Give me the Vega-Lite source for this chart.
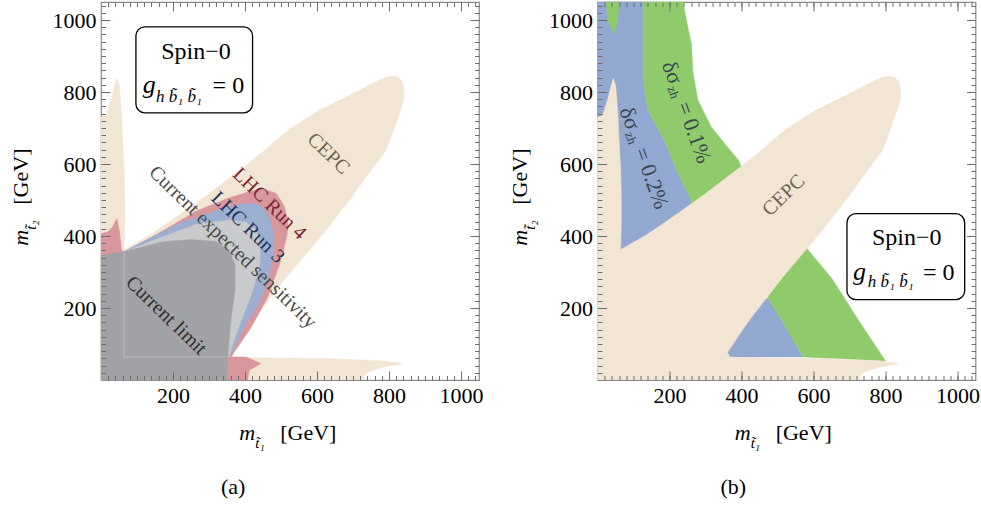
{
"$schema": "https://vega.github.io/schema/vega-lite/v6.json",
"padding": {"left": 8, "top": 0, "right": 0, "bottom": 0},
"background": "white",
"spacing": 118.5,
"bounds": "flush",
"config": {"view": {"stroke": "#8a8a8a", "strokeWidth": 1.2}, "text": {"font": "Liberation Serif"}, "axis": {"zindex": 1}},
"datasets": {
"cepc": [{"i":0,"x":0,"y":0},{"i":1,"x":0,"y":730},{"i":2,"x":14,"y":735},{"i":3,"x":28,"y":777},{"i":4,"x":37,"y":815},{"i":5,"x":44,"y":838},{"i":6,"x":51,"y":815},{"i":7,"x":56,"y":750},{"i":8,"x":60,"y":666},{"i":9,"x":64,"y":592},{"i":10,"x":66,"y":511},{"i":11,"x":66,"y":430},{"i":12,"x":64,"y":362},{"i":13,"x":139,"y":405},{"i":14,"x":222,"y":462},{"i":15,"x":292,"y":512},{"i":16,"x":417,"y":607},{"i":17,"x":528,"y":700},{"i":18,"x":606,"y":749},{"i":19,"x":700,"y":796},{"i":20,"x":770,"y":832},{"i":21,"x":792,"y":841},{"i":22,"x":810,"y":844},{"i":23,"x":825,"y":841},{"i":24,"x":836,"y":830},{"i":25,"x":840,"y":816},{"i":26,"x":842,"y":799},{"i":27,"x":841,"y":777},{"i":28,"x":836,"y":760},{"i":29,"x":815,"y":700},{"i":30,"x":792,"y":638},{"i":31,"x":744,"y":574},{"i":32,"x":700,"y":513},{"i":33,"x":625,"y":416},{"i":34,"x":514,"y":285},{"i":35,"x":417,"y":160},{"i":36,"x":361,"y":77},{"i":37,"x":367,"y":64},{"i":38,"x":403,"y":62},{"i":39,"x":648,"y":59},{"i":40,"x":787,"y":53},{"i":41,"x":838,"y":46},{"i":42,"x":786,"y":36},{"i":43,"x":741,"y":22},{"i":44,"x":732,"y":13},{"i":45,"x":727,"y":0}],
"a_red": [{"i":0,"x":0,"y":407},{"i":1,"x":19,"y":411},{"i":2,"x":32,"y":425},{"i":3,"x":44,"y":448},{"i":4,"x":51,"y":416},{"i":5,"x":57,"y":362},{"i":6,"x":64,"y":355},{"i":7,"x":171,"y":414},{"i":8,"x":264,"y":469},{"i":9,"x":356,"y":506},{"i":10,"x":421,"y":526},{"i":11,"x":450,"y":531},{"i":12,"x":486,"y":519},{"i":13,"x":508,"y":485},{"i":14,"x":519,"y":444},{"i":15,"x":517,"y":402},{"i":16,"x":497,"y":324},{"i":17,"x":463,"y":230},{"i":18,"x":417,"y":146},{"i":19,"x":361,"y":64},{"i":20,"x":403,"y":64},{"i":21,"x":444,"y":46},{"i":22,"x":412,"y":27},{"i":23,"x":407,"y":0},{"i":24,"x":0,"y":0}],
"a_blue": [{"i":0,"x":64,"y":357},{"i":1,"x":217,"y":435},{"i":2,"x":338,"y":477},{"i":3,"x":389,"y":488},{"i":4,"x":421,"y":491},{"i":5,"x":450,"y":480},{"i":6,"x":467,"y":453},{"i":7,"x":481,"y":402},{"i":8,"x":478,"y":344},{"i":9,"x":461,"y":269},{"i":10,"x":436,"y":208},{"i":11,"x":400,"y":152},{"i":12,"x":367,"y":83},{"i":13,"x":356,"y":64},{"i":14,"x":200,"y":64},{"i":15,"x":64,"y":300}],
"a_lgray": [{"i":0,"x":64,"y":356},{"i":1,"x":167,"y":396},{"i":2,"x":264,"y":432},{"i":3,"x":356,"y":444},{"i":4,"x":403,"y":438},{"i":5,"x":431,"y":416},{"i":6,"x":442,"y":374},{"i":7,"x":442,"y":327},{"i":8,"x":422,"y":249},{"i":9,"x":392,"y":171},{"i":10,"x":367,"y":104},{"i":11,"x":356,"y":64},{"i":12,"x":200,"y":64},{"i":13,"x":64,"y":300}],
"a_dgray": [{"i":0,"x":0,"y":0},{"i":1,"x":0,"y":346},{"i":2,"x":65,"y":357},{"i":3,"x":171,"y":384},{"i":4,"x":250,"y":390},{"i":5,"x":319,"y":385},{"i":6,"x":356,"y":360},{"i":7,"x":372,"y":319},{"i":8,"x":372,"y":249},{"i":9,"x":360,"y":158},{"i":10,"x":352,"y":64},{"i":11,"x":350,"y":0}],
"a_frame": [{"i":0,"x":64,"y":357},{"i":1,"x":64,"y":64},{"i":2,"x":352,"y":64}],
"a_labels": [{"label":"CEPC","x":632,"y":629},{"label":"LHC Run 4","x":468,"y":490},{"label":"LHC Run 3","x":408,"y":424},{"label":"Current expected sensitivity","x":366,"y":369},{"label":"Current limit","x":181,"y":179}],
"b_blue1": [{"i":0,"x":0,"y":1050},{"i":1,"x":126,"y":1050},{"i":2,"x":126,"y":842},{"i":3,"x":140,"y":749},{"i":4,"x":186,"y":666},{"i":5,"x":224,"y":573},{"i":6,"x":261,"y":499},{"i":7,"x":250,"y":300},{"i":8,"x":0,"y":300}],
"b_green1": [{"i":0,"x":126,"y":1050},{"i":1,"x":237,"y":1050},{"i":2,"x":251,"y":980},{"i":3,"x":261,"y":934},{"i":4,"x":265,"y":855},{"i":5,"x":279,"y":777},{"i":6,"x":316,"y":703},{"i":7,"x":353,"y":657},{"i":8,"x":391,"y":611},{"i":9,"x":400,"y":590},{"i":10,"x":300,"y":450},{"i":11,"x":250,"y":450},{"i":12,"x":261,"y":499},{"i":13,"x":224,"y":573},{"i":14,"x":186,"y":666},{"i":15,"x":140,"y":749},{"i":16,"x":126,"y":842}],
"b_notch": [{"i":0,"x":24,"y":1050},{"i":1,"x":61,"y":1050},{"i":2,"x":56,"y":999},{"i":3,"x":47,"y":962},{"i":4,"x":28,"y":999}],
"b_blue2": [{"i":0,"x":350,"y":64},{"i":1,"x":572,"y":64},{"i":2,"x":549,"y":101},{"i":3,"x":512,"y":166},{"i":4,"x":474,"y":227},{"i":5,"x":350,"y":227}],
"b_green2": [{"i":0,"x":572,"y":64},{"i":1,"x":800,"y":53},{"i":2,"x":725,"y":166},{"i":3,"x":651,"y":282},{"i":4,"x":581,"y":366},{"i":5,"x":500,"y":366},{"i":6,"x":474,"y":227},{"i":7,"x":512,"y":166},{"i":8,"x":549,"y":101}],
"b_dsig": [{"x":79,"y":756,"val":"= 0.2%"},{"x":197,"y":883,"val":"= 0.1%"}]
},
"hconcat": [
{
"width": 378, "height": 378,
"resolve": {"axis": {"x": "independent", "y": "independent"}},
"layer": [
{"data": {"name": "cepc"}, "mark": {"type": "line", "fill": "#F2E5D3", "stroke": "#F2E5D3", "strokeWidth": 0.5},
 "encoding": {"order": {"field": "i", "type": "quantitative"},
  "x": {"field": "x", "type": "quantitative", "scale": {"domain": [0,1050], "nice": false, "zero": false}, "axis": {"orient": "bottom", "zindex": 1, "offset": -9, "values": [200,400,600,800,1000], "format": "d", "tickSize": 9, "tickWidth": 1, "labelPadding": 5, "title": null, "domain": false, "grid": false, "tickColor": "#6e6e6e", "labelFont": "Liberation Serif", "labelFontSize": 22, "labelColor": "#000", "labelFlush": false, "labelOverlap": false}},
  "y": {"field": "y", "type": "quantitative", "scale": {"domain": [0,1050], "nice": false, "zero": false}, "axis": {"orient": "left", "zindex": 1, "offset": -9, "values": [200,400,600,800,1000], "format": "d", "tickSize": 9, "tickWidth": 1, "labelPadding": 5, "title": null, "domain": false, "grid": false, "tickColor": "#6e6e6e", "labelFont": "Liberation Serif", "labelFontSize": 22, "labelColor": "#000", "labelFlush": false, "labelOverlap": false}}}},
{"data": {"name": "a_red"}, "mark": {"type": "line", "fill": "#D8979C", "stroke": "#D8979C", "strokeWidth": 0.5},
 "encoding": {"order": {"field": "i", "type": "quantitative"},
  "x": {"field": "x", "type": "quantitative", "scale": {"domain": [0,1050], "nice": false, "zero": false}, "axis": {"orient": "bottom", "zindex": 1, "offset": -4.5, "values": [20,40,60,80,100,120,140,160,180,200,220,240,260,280,300,320,340,360,380,400,420,440,460,480,500,520,540,560,580,600,620,640,660,680,700,720,740,760,780,800,820,840,860,880,900,920,940,960,980,1000,1020,1040], "tickSize": 4.5, "tickWidth": 1, "labels": false, "title": null, "domain": false, "grid": false, "tickColor": "#6e6e6e"}},
  "y": {"field": "y", "type": "quantitative", "scale": {"domain": [0,1050], "nice": false, "zero": false}, "axis": {"orient": "left", "zindex": 1, "offset": -4.5, "values": [20,40,60,80,100,120,140,160,180,200,220,240,260,280,300,320,340,360,380,400,420,440,460,480,500,520,540,560,580,600,620,640,660,680,700,720,740,760,780,800,820,840,860,880,900,920,940,960,980,1000,1020,1040], "tickSize": 4.5, "tickWidth": 1, "labels": false, "title": null, "domain": false, "grid": false, "tickColor": "#6e6e6e"}}}},
{"data": {"name": "a_blue"}, "mark": {"type": "line", "fill": "#9CAFD1", "stroke": "#9CAFD1", "strokeWidth": 0.5},
 "encoding": {"order": {"field": "i", "type": "quantitative"},
  "x": {"field": "x", "type": "quantitative", "scale": {"domain": [0,1050], "nice": false, "zero": false}, "axis": {"orient": "top", "zindex": 1, "offset": -9, "values": [200,400,600,800,1000], "tickSize": 9, "tickWidth": 1, "labels": false, "title": null, "domain": false, "grid": false, "tickColor": "#6e6e6e"}},
  "y": {"field": "y", "type": "quantitative", "scale": {"domain": [0,1050], "nice": false, "zero": false}, "axis": {"orient": "right", "zindex": 1, "offset": -9, "values": [200,400,600,800,1000], "tickSize": 9, "tickWidth": 1, "labels": false, "title": null, "domain": false, "grid": false, "tickColor": "#6e6e6e"}}}},
{"data": {"name": "a_lgray"}, "mark": {"type": "line", "fill": "#C9CACC", "stroke": "#C9CACC", "strokeWidth": 0.5},
 "encoding": {"order": {"field": "i", "type": "quantitative"},
  "x": {"field": "x", "type": "quantitative", "scale": {"domain": [0,1050], "nice": false, "zero": false}, "axis": {"orient": "top", "zindex": 1, "offset": -4.5, "values": [20,40,60,80,100,120,140,160,180,200,220,240,260,280,300,320,340,360,380,400,420,440,460,480,500,520,540,560,580,600,620,640,660,680,700,720,740,760,780,800,820,840,860,880,900,920,940,960,980,1000,1020,1040], "tickSize": 4.5, "tickWidth": 1, "labels": false, "title": null, "domain": false, "grid": false, "tickColor": "#6e6e6e"}},
  "y": {"field": "y", "type": "quantitative", "scale": {"domain": [0,1050], "nice": false, "zero": false}, "axis": {"orient": "right", "zindex": 1, "offset": -4.5, "values": [20,40,60,80,100,120,140,160,180,200,220,240,260,280,300,320,340,360,380,400,420,440,460,480,500,520,540,560,580,600,620,640,660,680,700,720,740,760,780,800,820,840,860,880,900,920,940,960,980,1000,1020,1040], "tickSize": 4.5, "tickWidth": 1, "labels": false, "title": null, "domain": false, "grid": false, "tickColor": "#6e6e6e"}}}},
{"data": {"name": "a_dgray"}, "mark": {"type": "line", "fill": "#A1A2A5", "stroke": "#A1A2A5", "strokeWidth": 0.5},
 "encoding": {"order": {"field": "i", "type": "quantitative"},
  "x": {"field": "x", "type": "quantitative", "scale": {"domain": [0,1050], "nice": false, "zero": false}, "axis": null},
  "y": {"field": "y", "type": "quantitative", "scale": {"domain": [0,1050], "nice": false, "zero": false}, "axis": null}}},
{"data": {"name": "a_frame"}, "mark": {"type": "line", "stroke": "#B9B9BC", "strokeWidth": 1},
 "encoding": {"order": {"field": "i", "type": "quantitative"},
  "x": {"field": "x", "type": "quantitative", "scale": {"domain": [0,1050], "nice": false, "zero": false}, "axis": null},
  "y": {"field": "y", "type": "quantitative", "scale": {"domain": [0,1050], "nice": false, "zero": false}, "axis": null}}},
{"data": {"name": "a_labels"}, "mark": {"type": "text", "font": "Liberation Serif", "fontSize": 20, "angle": 44, "align": "center", "baseline": "middle"},
 "encoding": {
  "x": {"field": "x", "type": "quantitative", "scale": {"domain": [0,1050], "nice": false, "zero": false}, "axis": null},
  "y": {"field": "y", "type": "quantitative", "scale": {"domain": [0,1050], "nice": false, "zero": false}, "axis": null},
  "text": {"field": "label"},
  "color": {"field": "label", "type": "nominal", "legend": null, "scale": {"domain": ["CEPC","LHC Run 4","LHC Run 3","Current expected sensitivity","Current limit"], "range": ["#6f6554","#7a2431","#23335a","#4a4a4a","#2f2f2f"]}}}},
{"data": {"values": [{}]}, "mark": {"type": "rect", "fill": "white", "stroke": "black", "strokeWidth": 1.3, "cornerRadius": 9},
 "encoding": {
  "x": {"datum": 97, "type": "quantitative", "scale": {"domain": [0,1050], "nice": false, "zero": false}, "axis": null},
  "x2": {"datum": 421},
  "y": {"datum": 981, "type": "quantitative", "scale": {"domain": [0,1050], "nice": false, "zero": false}, "axis": null},
  "y2": {"datum": 742}}},
{"data": {"values": [{}]}, "mark": {"type": "text", "font": "Liberation Serif", "fontSize": 24, "align": "center", "baseline": "alphabetic", "color": "black"},
 "encoding": {
  "x": {"datum": 264, "type": "quantitative", "scale": {"domain": [0,1050], "nice": false, "zero": false}, "axis": null},
  "y": {"datum": 893, "type": "quantitative", "scale": {"domain": [0,1050], "nice": false, "zero": false}, "axis": null},
  "text": {"value": "Spin\u22120"}}},
{"data": {"values": [{}]}, "mark": {"type": "text", "font": "Liberation Serif", "fontSize": 26, "fontStyle": "italic", "align": "left", "baseline": "alphabetic", "color": "black"},
 "encoding": {
  "x": {"datum": 116, "type": "quantitative", "scale": {"domain": [0,1050], "nice": false, "zero": false}, "axis": null},
  "y": {"datum": 796, "type": "quantitative", "scale": {"domain": [0,1050], "nice": false, "zero": false}, "axis": null},
  "text": {"value": "g"}}},
{"data": {"values": [{}]}, "mark": {"type": "text", "font": "Liberation Serif", "fontSize": 17, "fontStyle": "italic", "align": "left", "baseline": "alphabetic", "color": "black"},
 "encoding": {
  "x": {"datum": 153, "type": "quantitative", "scale": {"domain": [0,1050], "nice": false, "zero": false}, "axis": null},
  "y": {"datum": 772, "type": "quantitative", "scale": {"domain": [0,1050], "nice": false, "zero": false}, "axis": null},
  "text": {"value": "h b\u0303\u2081 b\u0303\u2081"}}},
{"data": {"values": [{}]}, "mark": {"type": "text", "font": "Liberation Serif", "fontSize": 24, "align": "left", "baseline": "alphabetic", "color": "black"},
 "encoding": {
  "x": {"datum": 310, "type": "quantitative", "scale": {"domain": [0,1050], "nice": false, "zero": false}, "axis": null},
  "y": {"datum": 796, "type": "quantitative", "scale": {"domain": [0,1050], "nice": false, "zero": false}, "axis": null},
  "text": {"value": "= 0"}}},
{"data": {"values": [{}]}, "mark": {"type": "text", "font": "Liberation Serif", "fontSize": 22, "fontStyle": "italic", "angle": 270, "align": "left", "baseline": "alphabetic", "color": "black"},
 "encoding": {
  "x": {"datum": -204, "type": "quantitative", "scale": {"domain": [0,1050], "nice": false, "zero": false}, "axis": null},
  "y": {"datum": 373, "type": "quantitative", "scale": {"domain": [0,1050], "nice": false, "zero": false}, "axis": null},
  "text": {"value": "m"}}},
{"data": {"values": [{}]}, "mark": {"type": "text", "font": "Liberation Serif", "fontSize": 15, "fontStyle": "italic", "angle": 270, "align": "left", "baseline": "alphabetic", "dx": 16, "dy": 8, "color": "black"},
 "encoding": {
  "x": {"datum": -204, "type": "quantitative", "scale": {"domain": [0,1050], "nice": false, "zero": false}, "axis": null},
  "y": {"datum": 373, "type": "quantitative", "scale": {"domain": [0,1050], "nice": false, "zero": false}, "axis": null},
  "text": {"value": "t\u0303\u2082"}}},
{"data": {"values": [{}]}, "mark": {"type": "text", "font": "Liberation Serif", "fontSize": 22, "angle": 270, "align": "left", "baseline": "alphabetic", "dx": 41, "color": "black"},
 "encoding": {
  "x": {"datum": -204, "type": "quantitative", "scale": {"domain": [0,1050], "nice": false, "zero": false}, "axis": null},
  "y": {"datum": 373, "type": "quantitative", "scale": {"domain": [0,1050], "nice": false, "zero": false}, "axis": null},
  "text": {"value": "[GeV]"}}},
{"data": {"values": [{}]}, "mark": {"type": "text", "font": "Liberation Serif", "fontSize": 22, "fontStyle": "italic", "align": "left", "baseline": "alphabetic", "color": "black"},
 "encoding": {
  "x": {"datum": 384, "type": "quantitative", "scale": {"domain": [0,1050], "nice": false, "zero": false}, "axis": null},
  "y": {"datum": -167, "type": "quantitative", "scale": {"domain": [0,1050], "nice": false, "zero": false}, "axis": null},
  "text": {"value": "m"}}},
{"data": {"values": [{}]}, "mark": {"type": "text", "font": "Liberation Serif", "fontSize": 15, "fontStyle": "italic", "align": "left", "baseline": "alphabetic", "dx": 16, "dy": 8, "color": "black"},
 "encoding": {
  "x": {"datum": 384, "type": "quantitative", "scale": {"domain": [0,1050], "nice": false, "zero": false}, "axis": null},
  "y": {"datum": -167, "type": "quantitative", "scale": {"domain": [0,1050], "nice": false, "zero": false}, "axis": null},
  "text": {"value": "t\u0303\u2081"}}},
{"data": {"values": [{}]}, "mark": {"type": "text", "font": "Liberation Serif", "fontSize": 22, "align": "left", "baseline": "alphabetic", "dx": 41, "color": "black"},
 "encoding": {
  "x": {"datum": 384, "type": "quantitative", "scale": {"domain": [0,1050], "nice": false, "zero": false}, "axis": null},
  "y": {"datum": -167, "type": "quantitative", "scale": {"domain": [0,1050], "nice": false, "zero": false}, "axis": null},
  "text": {"value": "[GeV]"}}},
{"data": {"values": [{}]}, "mark": {"type": "text", "font": "Liberation Serif", "fontSize": 22, "align": "center", "baseline": "middle", "color": "black"},
 "encoding": {
  "x": {"datum": 367, "type": "quantitative", "scale": {"domain": [0,1050], "nice": false, "zero": false}, "axis": null},
  "y": {"datum": -297, "type": "quantitative", "scale": {"domain": [0,1050], "nice": false, "zero": false}, "axis": null},
  "text": {"value": "(a)"}}}
]
},
{
"width": 378, "height": 378,
"resolve": {"axis": {"x": "independent", "y": "independent"}},
"layer": [
{"data": {"name": "b_blue1"}, "mark": {"type": "line", "fill": "#93A8D0", "stroke": "#93A8D0", "strokeWidth": 0.5},
 "encoding": {"order": {"field": "i", "type": "quantitative"},
  "x": {"field": "x", "type": "quantitative", "scale": {"domain": [0,1050], "nice": false, "zero": false}, "axis": {"orient": "bottom", "zindex": 1, "offset": -9, "values": [200,400,600,800,1000], "format": "d", "tickSize": 9, "tickWidth": 1, "labelPadding": 5, "title": null, "domain": false, "grid": false, "tickColor": "#6e6e6e", "labelFont": "Liberation Serif", "labelFontSize": 22, "labelColor": "#000", "labelFlush": false, "labelOverlap": false}},
  "y": {"field": "y", "type": "quantitative", "scale": {"domain": [0,1050], "nice": false, "zero": false}, "axis": {"orient": "left", "zindex": 1, "offset": -9, "values": [200,400,600,800,1000], "format": "d", "tickSize": 9, "tickWidth": 1, "labelPadding": 5, "title": null, "domain": false, "grid": false, "tickColor": "#6e6e6e", "labelFont": "Liberation Serif", "labelFontSize": 22, "labelColor": "#000", "labelFlush": false, "labelOverlap": false}}}},
{"data": {"name": "b_green1"}, "mark": {"type": "line", "fill": "#8FCB6B", "stroke": "#8FCB6B", "strokeWidth": 0.5},
 "encoding": {"order": {"field": "i", "type": "quantitative"},
  "x": {"field": "x", "type": "quantitative", "scale": {"domain": [0,1050], "nice": false, "zero": false}, "axis": {"orient": "bottom", "zindex": 1, "offset": -4.5, "values": [20,40,60,80,100,120,140,160,180,200,220,240,260,280,300,320,340,360,380,400,420,440,460,480,500,520,540,560,580,600,620,640,660,680,700,720,740,760,780,800,820,840,860,880,900,920,940,960,980,1000,1020,1040], "tickSize": 4.5, "tickWidth": 1, "labels": false, "title": null, "domain": false, "grid": false, "tickColor": "#6e6e6e"}},
  "y": {"field": "y", "type": "quantitative", "scale": {"domain": [0,1050], "nice": false, "zero": false}, "axis": {"orient": "left", "zindex": 1, "offset": -4.5, "values": [20,40,60,80,100,120,140,160,180,200,220,240,260,280,300,320,340,360,380,400,420,440,460,480,500,520,540,560,580,600,620,640,660,680,700,720,740,760,780,800,820,840,860,880,900,920,940,960,980,1000,1020,1040], "tickSize": 4.5, "tickWidth": 1, "labels": false, "title": null, "domain": false, "grid": false, "tickColor": "#6e6e6e"}}}},
{"data": {"name": "b_notch"}, "mark": {"type": "line", "fill": "#8FCB6B", "stroke": "#8FCB6B", "strokeWidth": 0.5},
 "encoding": {"order": {"field": "i", "type": "quantitative"},
  "x": {"field": "x", "type": "quantitative", "scale": {"domain": [0,1050], "nice": false, "zero": false}, "axis": {"orient": "top", "zindex": 1, "offset": -9, "values": [200,400,600,800,1000], "tickSize": 9, "tickWidth": 1, "labels": false, "title": null, "domain": false, "grid": false, "tickColor": "#6e6e6e"}},
  "y": {"field": "y", "type": "quantitative", "scale": {"domain": [0,1050], "nice": false, "zero": false}, "axis": {"orient": "right", "zindex": 1, "offset": -9, "values": [200,400,600,800,1000], "tickSize": 9, "tickWidth": 1, "labels": false, "title": null, "domain": false, "grid": false, "tickColor": "#6e6e6e"}}}},
{"data": {"name": "b_blue2"}, "mark": {"type": "line", "fill": "#93A8D0", "stroke": "#93A8D0", "strokeWidth": 0.5},
 "encoding": {"order": {"field": "i", "type": "quantitative"},
  "x": {"field": "x", "type": "quantitative", "scale": {"domain": [0,1050], "nice": false, "zero": false}, "axis": {"orient": "top", "zindex": 1, "offset": -4.5, "values": [20,40,60,80,100,120,140,160,180,200,220,240,260,280,300,320,340,360,380,400,420,440,460,480,500,520,540,560,580,600,620,640,660,680,700,720,740,760,780,800,820,840,860,880,900,920,940,960,980,1000,1020,1040], "tickSize": 4.5, "tickWidth": 1, "labels": false, "title": null, "domain": false, "grid": false, "tickColor": "#6e6e6e"}},
  "y": {"field": "y", "type": "quantitative", "scale": {"domain": [0,1050], "nice": false, "zero": false}, "axis": {"orient": "right", "zindex": 1, "offset": -4.5, "values": [20,40,60,80,100,120,140,160,180,200,220,240,260,280,300,320,340,360,380,400,420,440,460,480,500,520,540,560,580,600,620,640,660,680,700,720,740,760,780,800,820,840,860,880,900,920,940,960,980,1000,1020,1040], "tickSize": 4.5, "tickWidth": 1, "labels": false, "title": null, "domain": false, "grid": false, "tickColor": "#6e6e6e"}}}},
{"data": {"name": "b_green2"}, "mark": {"type": "line", "fill": "#8FCB6B", "stroke": "#8FCB6B", "strokeWidth": 0.5},
 "encoding": {"order": {"field": "i", "type": "quantitative"},
  "x": {"field": "x", "type": "quantitative", "scale": {"domain": [0,1050], "nice": false, "zero": false}, "axis": null},
  "y": {"field": "y", "type": "quantitative", "scale": {"domain": [0,1050], "nice": false, "zero": false}, "axis": null}}},
{"data": {"name": "cepc"}, "mark": {"type": "line", "fill": "#F2E5D3", "stroke": "#F2E5D3", "strokeWidth": 0.5},
 "encoding": {"order": {"field": "i", "type": "quantitative"},
  "x": {"field": "x", "type": "quantitative", "scale": {"domain": [0,1050], "nice": false, "zero": false}, "axis": null},
  "y": {"field": "y", "type": "quantitative", "scale": {"domain": [0,1050], "nice": false, "zero": false}, "axis": null}}},
{"data": {"values": [{}]}, "mark": {"type": "text", "font": "Liberation Serif", "fontSize": 20, "angle": 316, "align": "center", "baseline": "middle", "color": "#6f6554"},
 "encoding": {
  "x": {"datum": 517, "type": "quantitative", "scale": {"domain": [0,1050], "nice": false, "zero": false}, "axis": null},
  "y": {"datum": 513, "type": "quantitative", "scale": {"domain": [0,1050], "nice": false, "zero": false}, "axis": null},
  "text": {"value": "CEPC"}}},
{"data": {"name": "b_dsig"}, "mark": {"type": "text", "font": "Liberation Serif", "fontSize": 22, "angle": 70, "align": "left", "baseline": "middle", "color": "#3a4550"},
 "encoding": {
  "x": {"field": "x", "type": "quantitative", "scale": {"domain": [0,1050], "nice": false, "zero": false}, "axis": null},
  "y": {"field": "y", "type": "quantitative", "scale": {"domain": [0,1050], "nice": false, "zero": false}, "axis": null},
  "text": {"value": "\u03b4\u03c3"}}},
{"data": {"name": "b_dsig"}, "mark": {"type": "text", "font": "Liberation Serif", "fontSize": 13, "angle": 70, "align": "left", "baseline": "middle", "dx": 24, "dy": 6, "color": "#3a4550"},
 "encoding": {
  "x": {"field": "x", "type": "quantitative", "scale": {"domain": [0,1050], "nice": false, "zero": false}, "axis": null},
  "y": {"field": "y", "type": "quantitative", "scale": {"domain": [0,1050], "nice": false, "zero": false}, "axis": null},
  "text": {"value": "zh"}}},
{"data": {"name": "b_dsig"}, "mark": {"type": "text", "font": "Liberation Serif", "fontSize": 22, "angle": 70, "align": "left", "baseline": "middle", "dx": 43, "color": "#3a4550"},
 "encoding": {
  "x": {"field": "x", "type": "quantitative", "scale": {"domain": [0,1050], "nice": false, "zero": false}, "axis": null},
  "y": {"field": "y", "type": "quantitative", "scale": {"domain": [0,1050], "nice": false, "zero": false}, "axis": null},
  "text": {"field": "val"}}},
{"data": {"values": [{}]}, "mark": {"type": "rect", "fill": "white", "stroke": "black", "strokeWidth": 1.3, "cornerRadius": 9},
 "encoding": {
  "x": {"datum": 693, "type": "quantitative", "scale": {"domain": [0,1050], "nice": false, "zero": false}, "axis": null},
  "x2": {"datum": 1020},
  "y": {"datum": 462, "type": "quantitative", "scale": {"domain": [0,1050], "nice": false, "zero": false}, "axis": null},
  "y2": {"datum": 223}}},
{"data": {"values": [{}]}, "mark": {"type": "text", "font": "Liberation Serif", "fontSize": 24, "align": "center", "baseline": "alphabetic", "color": "black"},
 "encoding": {
  "x": {"datum": 859, "type": "quantitative", "scale": {"domain": [0,1050], "nice": false, "zero": false}, "axis": null},
  "y": {"datum": 376, "type": "quantitative", "scale": {"domain": [0,1050], "nice": false, "zero": false}, "axis": null},
  "text": {"value": "Spin\u22120"}}},
{"data": {"values": [{}]}, "mark": {"type": "text", "font": "Liberation Serif", "fontSize": 26, "fontStyle": "italic", "align": "left", "baseline": "alphabetic", "color": "black"},
 "encoding": {
  "x": {"datum": 710, "type": "quantitative", "scale": {"domain": [0,1050], "nice": false, "zero": false}, "axis": null},
  "y": {"datum": 279, "type": "quantitative", "scale": {"domain": [0,1050], "nice": false, "zero": false}, "axis": null},
  "text": {"value": "g"}}},
{"data": {"values": [{}]}, "mark": {"type": "text", "font": "Liberation Serif", "fontSize": 17, "fontStyle": "italic", "align": "left", "baseline": "alphabetic", "color": "black"},
 "encoding": {
  "x": {"datum": 751, "type": "quantitative", "scale": {"domain": [0,1050], "nice": false, "zero": false}, "axis": null},
  "y": {"datum": 257, "type": "quantitative", "scale": {"domain": [0,1050], "nice": false, "zero": false}, "axis": null},
  "text": {"value": "h b\u0303\u2081 b\u0303\u2081"}}},
{"data": {"values": [{}]}, "mark": {"type": "text", "font": "Liberation Serif", "fontSize": 24, "align": "left", "baseline": "alphabetic", "color": "black"},
 "encoding": {
  "x": {"datum": 904, "type": "quantitative", "scale": {"domain": [0,1050], "nice": false, "zero": false}, "axis": null},
  "y": {"datum": 279, "type": "quantitative", "scale": {"domain": [0,1050], "nice": false, "zero": false}, "axis": null},
  "text": {"value": "= 0"}}},
{"data": {"values": [{}]}, "mark": {"type": "text", "font": "Liberation Serif", "fontSize": 22, "fontStyle": "italic", "angle": 270, "align": "left", "baseline": "alphabetic", "color": "black"},
 "encoding": {
  "x": {"datum": -196, "type": "quantitative", "scale": {"domain": [0,1050], "nice": false, "zero": false}, "axis": null},
  "y": {"datum": 373, "type": "quantitative", "scale": {"domain": [0,1050], "nice": false, "zero": false}, "axis": null},
  "text": {"value": "m"}}},
{"data": {"values": [{}]}, "mark": {"type": "text", "font": "Liberation Serif", "fontSize": 15, "fontStyle": "italic", "angle": 270, "align": "left", "baseline": "alphabetic", "dx": 16, "dy": 8, "color": "black"},
 "encoding": {
  "x": {"datum": -196, "type": "quantitative", "scale": {"domain": [0,1050], "nice": false, "zero": false}, "axis": null},
  "y": {"datum": 373, "type": "quantitative", "scale": {"domain": [0,1050], "nice": false, "zero": false}, "axis": null},
  "text": {"value": "t\u0303\u2082"}}},
{"data": {"values": [{}]}, "mark": {"type": "text", "font": "Liberation Serif", "fontSize": 22, "angle": 270, "align": "left", "baseline": "alphabetic", "dx": 41, "color": "black"},
 "encoding": {
  "x": {"datum": -196, "type": "quantitative", "scale": {"domain": [0,1050], "nice": false, "zero": false}, "axis": null},
  "y": {"datum": 373, "type": "quantitative", "scale": {"domain": [0,1050], "nice": false, "zero": false}, "axis": null},
  "text": {"value": "[GeV]"}}},
{"data": {"values": [{}]}, "mark": {"type": "text", "font": "Liberation Serif", "fontSize": 22, "fontStyle": "italic", "align": "left", "baseline": "alphabetic", "color": "black"},
 "encoding": {
  "x": {"datum": 381, "type": "quantitative", "scale": {"domain": [0,1050], "nice": false, "zero": false}, "axis": null},
  "y": {"datum": -167, "type": "quantitative", "scale": {"domain": [0,1050], "nice": false, "zero": false}, "axis": null},
  "text": {"value": "m"}}},
{"data": {"values": [{}]}, "mark": {"type": "text", "font": "Liberation Serif", "fontSize": 15, "fontStyle": "italic", "align": "left", "baseline": "alphabetic", "dx": 16, "dy": 8, "color": "black"},
 "encoding": {
  "x": {"datum": 381, "type": "quantitative", "scale": {"domain": [0,1050], "nice": false, "zero": false}, "axis": null},
  "y": {"datum": -167, "type": "quantitative", "scale": {"domain": [0,1050], "nice": false, "zero": false}, "axis": null},
  "text": {"value": "t\u0303\u2081"}}},
{"data": {"values": [{}]}, "mark": {"type": "text", "font": "Liberation Serif", "fontSize": 22, "align": "left", "baseline": "alphabetic", "dx": 41, "color": "black"},
 "encoding": {
  "x": {"datum": 381, "type": "quantitative", "scale": {"domain": [0,1050], "nice": false, "zero": false}, "axis": null},
  "y": {"datum": -167, "type": "quantitative", "scale": {"domain": [0,1050], "nice": false, "zero": false}, "axis": null},
  "text": {"value": "[GeV]"}}},
{"data": {"values": [{}]}, "mark": {"type": "text", "font": "Liberation Serif", "fontSize": 22, "align": "center", "baseline": "middle", "color": "black"},
 "encoding": {
  "x": {"datum": 377, "type": "quantitative", "scale": {"domain": [0,1050], "nice": false, "zero": false}, "axis": null},
  "y": {"datum": -297, "type": "quantitative", "scale": {"domain": [0,1050], "nice": false, "zero": false}, "axis": null},
  "text": {"value": "(b)"}}}
]
}
]
}
